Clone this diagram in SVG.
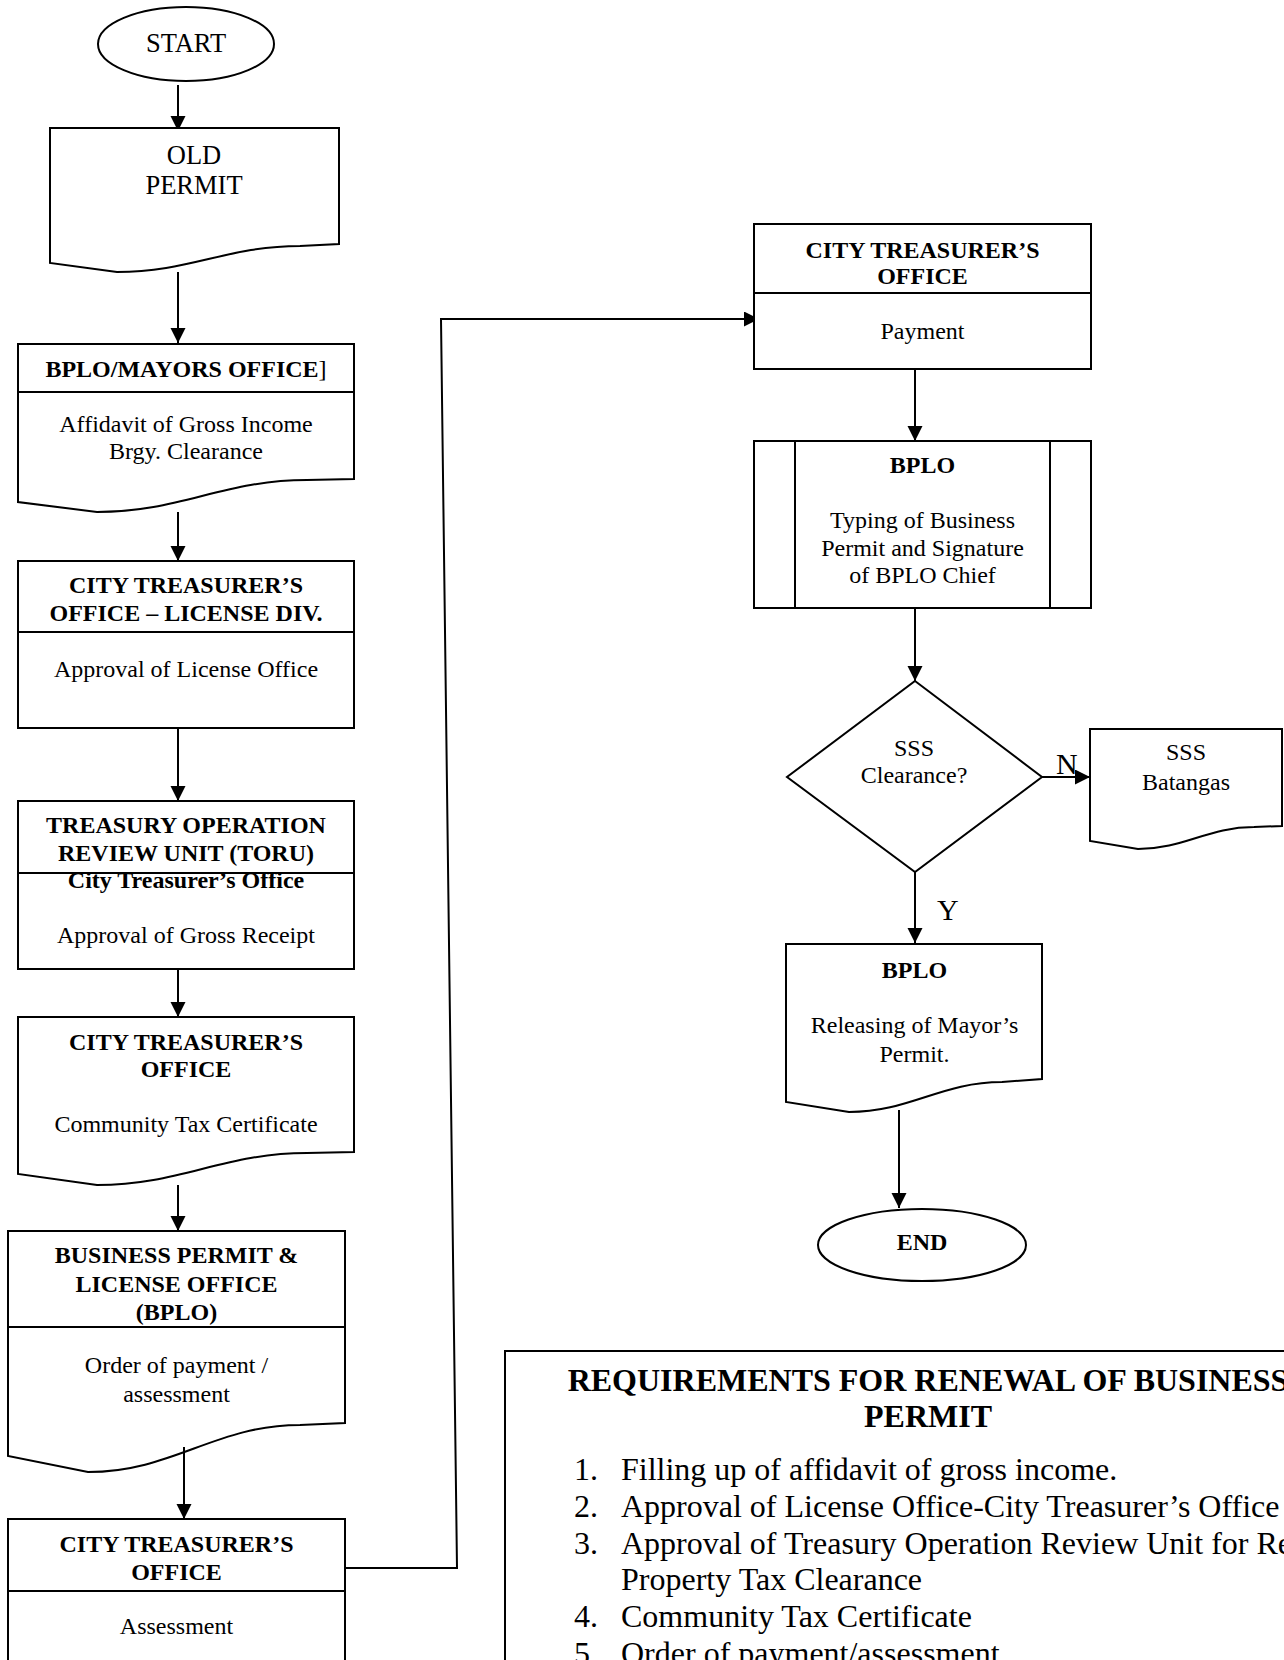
<svg xmlns="http://www.w3.org/2000/svg" width="1284" height="1660" viewBox="0 0 1284 1660">
<style>
.s{fill:#fff;stroke:#000;stroke-width:2}
.ln{fill:none;stroke:#000;stroke-width:2}
.c{stroke:#000;stroke-width:2;fill:none;marker-end:url(#ah)}
text{font-family:"Liberation Serif","Times New Roman",serif;fill:#000;text-anchor:middle}
.r{font-size:24px}
.b{font-size:24px;font-weight:bold}
.big{font-size:26.5px}
.lbl{font-size:30px;text-anchor:start}
.tt{font-size:32px;font-weight:bold}
.li{font-size:32px;text-anchor:start}
</style>
<defs>
<marker id="ah" markerUnits="userSpaceOnUse" markerWidth="16" markerHeight="16" refX="15" refY="7.5" orient="auto">
<path d="M0,0 L15,7.5 L0,15 Z" fill="#000"/>
</marker>
</defs>
<rect width="1284" height="1660" fill="#fff"/>

<g id="connectors">
<path class="c" d="M178,85 V131"/>
<path class="c" d="M178,272 V343"/>
<path class="c" d="M178,512 V561"/>
<path class="c" d="M178,728 V801"/>
<path class="c" d="M178,969 V1017"/>
<path class="c" d="M178,1185 V1231"/>
<path class="c" d="M184,1447 V1519"/>
<path class="c" d="M345,1568 H457 L441,319 H759"/>
<path class="c" d="M915,369 V441"/>
<path class="c" d="M915,608 V681"/>
<path class="c" d="M1042,777 H1090"/>
<path class="c" d="M915,872 V943"/>
<path class="c" d="M899,1110 V1208"/>
<text class="lbl" x="1056" y="774">N</text>
<text class="lbl" x="937" y="920">Y</text>
</g>

<g id="start">
<ellipse class="s" cx="186" cy="44" rx="88" ry="37"/>
<text class="big" x="186" y="52">START</text>
</g>

<g id="old-permit">
<path class="s" d="M50,128 H339 V244 L300,246 C227,246 190,272 117,272 L50,263 Z"/>
<text class="big" x="194" y="164">OLD</text>
<text class="big" x="194" y="194">PERMIT</text>
</g>

<g id="bplo-mayors">
<path class="s" d="M18,344 H354 V479 L307,480 C223,480 181,512 97,512 L18,502 Z"/>
<line class="ln" x1="18" y1="392" x2="354" y2="392"/>
<text class="b" x="186" y="377">BPLO/MAYORS OFFICE<tspan font-weight="normal">]</tspan></text>
<text class="r" x="186" y="432">Affidavit of Gross Income</text>
<text class="r" x="186" y="459">Brgy. Clearance</text>
</g>

<g id="cto-license">
<rect class="s" x="18" y="561" width="336" height="167"/>
<line class="ln" x1="18" y1="632" x2="354" y2="632"/>
<text class="b" x="186" y="593">CITY TREASURER’S</text>
<text class="b" x="186" y="621">OFFICE – LICENSE DIV.</text>
<text class="r" x="186" y="677">Approval of License Office</text>
</g>

<g id="toru">
<rect class="s" x="18" y="801" width="336" height="168"/>
<line class="ln" x1="18" y1="873" x2="354" y2="873"/>
<text class="b" x="186" y="833">TREASURY OPERATION</text>
<text class="b" x="186" y="861">REVIEW UNIT (TORU)</text>
<text class="b" x="186" y="888">City Treasurer’s Office</text>
<text class="r" x="186" y="943">Approval of Gross Receipt</text>
</g>

<g id="cto-ctc">
<path class="s" d="M18,1017 H354 V1152 L307,1153 C223,1153 181,1185 97,1185 L18,1174 Z"/>
<text class="b" x="186" y="1050">CITY TREASURER’S</text>
<text class="b" x="186" y="1077">OFFICE</text>
<text class="r" x="186" y="1132">Community Tax Certificate</text>
</g>

<g id="bplo-order">
<path class="s" d="M8,1231 H345 V1423 L300,1425 C215,1425 173,1472 88,1472 L8,1456 Z"/>
<line class="ln" x1="8" y1="1327" x2="345" y2="1327"/>
<text class="b" x="176.5" y="1263">BUSINESS PERMIT &amp;</text>
<text class="b" x="176.5" y="1292">LICENSE OFFICE</text>
<text class="b" x="176.5" y="1320">(BPLO)</text>
<text class="r" x="176.5" y="1373">Order of payment /</text>
<text class="r" x="176.5" y="1402">assessment</text>
</g>
<path class="ln" d="M184,1447 V1460"/>

<g id="cto-assessment">
<rect class="s" x="8" y="1519" width="337" height="180"/>
<line class="ln" x1="8" y1="1591" x2="345" y2="1591"/>
<text class="b" x="176.5" y="1552">CITY TREASURER’S</text>
<text class="b" x="176.5" y="1580">OFFICE</text>
<text class="r" x="176.5" y="1634">Assessment</text>
</g>

<g id="cto-payment">
<rect class="s" x="754" y="224" width="337" height="145"/>
<line class="ln" x1="754" y1="293" x2="1091" y2="293"/>
<text class="b" x="922.5" y="258">CITY TREASURER’S</text>
<text class="b" x="922.5" y="284">OFFICE</text>
<text class="r" x="922.5" y="339">Payment</text>
</g>

<g id="bplo-typing">
<rect class="s" x="754" y="441" width="337" height="167"/>
<line class="ln" x1="795" y1="441" x2="795" y2="608"/>
<line class="ln" x1="1050" y1="441" x2="1050" y2="608"/>
<text class="b" x="922.5" y="473">BPLO</text>
<text class="r" x="922.5" y="528">Typing of Business</text>
<text class="r" x="922.5" y="556">Permit and Signature</text>
<text class="r" x="922.5" y="583">of BPLO Chief</text>
</g>

<g id="sss-decision">
<path class="s" d="M915,681 L1042,777 L915,872 L787,777 Z"/>
<text class="r" x="914" y="756">SSS</text>
<text class="r" x="914" y="783">Clearance?</text>
</g>

<g id="sss-batangas">
<path class="s" d="M1090,729 H1282 V826 L1254,827 C1208,827 1184,849 1138,849 L1090,841 Z"/>
<text class="r" x="1186" y="760">SSS</text>
<text class="r" x="1186" y="790">Batangas</text>
</g>

<g id="bplo-release">
<path class="s" d="M786,944 H1042 V1079 L1002,1082 C941,1082 910,1112 849,1112 L786,1102 Z"/>
<text class="b" x="914.5" y="978">BPLO</text>
<text class="r" x="914.5" y="1033">Releasing of Mayor’s</text>
<text class="r" x="914.5" y="1062">Permit.</text>
</g>

<g id="end">
<ellipse class="s" cx="922" cy="1245" rx="104" ry="36"/>
<text class="b" x="922" y="1250">END</text>
</g>

<g id="requirements">
<rect class="s" x="505" y="1351" width="846" height="400"/>
<text class="tt" x="928" y="1391">REQUIREMENTS FOR RENEWAL OF BUSINESS</text>
<text class="tt" x="928" y="1427">PERMIT</text>
<text class="li" x="574" y="1480">1.</text>
<text class="li" x="621" y="1480">Filling up of affidavit of gross income.</text>
<text class="li" x="574" y="1517">2.</text>
<text class="li" x="621" y="1517">Approval of License Office-City Treasurer’s Office</text>
<text class="li" x="574" y="1554">3.</text>
<text class="li" x="621" y="1554">Approval of Treasury Operation Review Unit for Real</text>
<text class="li" x="621" y="1590">Property Tax Clearance</text>
<text class="li" x="574" y="1627">4.</text>
<text class="li" x="621" y="1627">Community Tax Certificate</text>
<text class="li" x="574" y="1664">5.</text>
<text class="li" x="621" y="1664">Order of payment/assessment</text>
</g>
</svg>
